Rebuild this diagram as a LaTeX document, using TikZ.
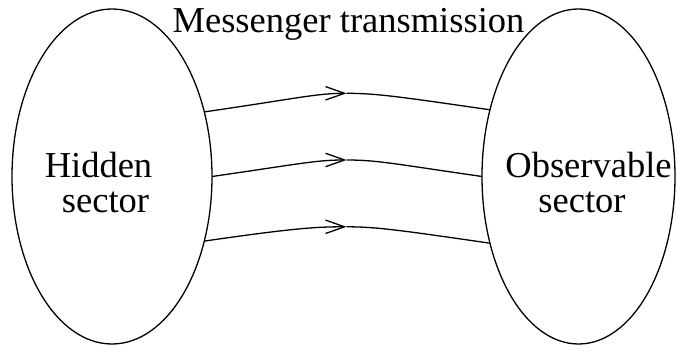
\documentclass[tikz,border=0pt]{standalone}
\usepackage{fontspec}
\setmainfont{LiberationSerif}[Extension=.ttf,UprightFont=*-Regular,BoldFont=*-Bold,ItalicFont=*-Italic,BoldItalicFont=*-BoldItalic]
\usetikzlibrary{shapes.geometric,arrows.meta}
\begin{document}
\begin{tikzpicture}[x=1pt,y=1pt,
  sectorbox/.style={ellipse,draw,line width=1.3pt,inner sep=0pt,outer sep=0pt,minimum height=335pt},
  lbl/.style={inner sep=0pt,anchor=base,font=\rmfamily\fontsize{36.5}{36}\selectfont},
  msgline/.style={line width=1.3pt},
  msgarrow/.style={msgline,-{Straight Barb[length=19pt,width=13.4pt,line width=1.3pt]}}]
\useasboundingbox (0,0) rectangle (677,345);
\node[sectorbox,minimum width=200pt] (L) at (112,168.5) {};
\node[sectorbox,minimum width=193pt] (R) at (578.5,168.5) {};
\node[lbl] (title) at (348.5,312) {Messenger transmission};
\node[lbl] (h1) at (98.5,167) {Hidden};
\node[lbl] (h2) at (105.5,132) {sector};
\node[lbl] (o1) at (588.5,167) {Observable};
\node[lbl] (o2) at (582,132) {sector};
\coordinate (m1) at (346.5,251.7);
\coordinate (m2) at (346.5,185);
\coordinate (m3) at (346.5,118.2);
\draw[msgarrow] (L.35.92) .. controls +(90,13) and +(-30,0) .. (m1);
\draw[msgline] (m1) .. controls +(30,0) and +(-90,13) .. (R.143.11);
\draw[msgarrow] (L.east) .. controls +(90,13) and +(-30,0) .. (m2);
\draw[msgline] (m2) .. controls +(30,0) and +(-90,13) .. (R.west);
\draw[msgarrow] (L.-35.92) .. controls +(90,13) and +(-30,0) .. (m3);
\draw[msgline] (m3) .. controls +(30,0) and +(-90,13) .. (R.-143.11);
\end{tikzpicture}
\end{document}
